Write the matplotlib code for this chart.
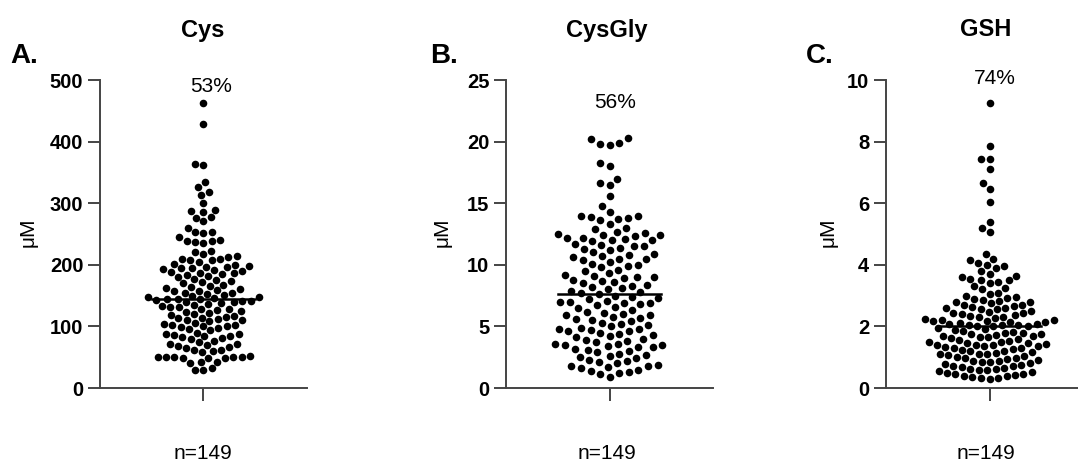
import numpy as np
import matplotlib
matplotlib.use("Agg")
import matplotlib.pyplot as plt

plt.rcParams['font.family'] = ['Liberation Sans', 'DejaVu Sans']

# valores (uM), n=149 en cada panel
cys = [463, 428, 364, 362, 334, 326, 318, 313, 300, 289, 288, 286, 277, 276, 271, 260,
       253, 253, 252, 245, 240, 239, 238, 237, 236,
       218, 221, 223,
       205, 207, 208, 209, 210, 212, 214,
       193, 194, 195, 196, 197, 198, 200, 202,
       180, 182, 184, 185, 186, 187, 188, 190, 192,
       166, 168, 170, 172, 173, 175, 177,
       151, 153, 154, 155, 157, 158, 159, 160, 162, 164,
       137, 138, 139, 140, 141, 142, 143, 144, 145, 145, 146, 147, 148, 149,
       122, 124, 125, 126, 128, 129, 131, 132, 133, 135,
       108, 110, 111, 112, 113, 114, 116, 117, 118, 120,
       94, 96, 98, 99, 100, 101, 102, 103, 104, 106,
       79, 81, 83, 84, 85, 86, 87, 88, 90,
       65, 67, 68, 70, 71, 72, 74, 76,
       58, 60, 61, 62,
       48, 49, 49, 50, 50, 50, 51, 51, 52,
       41, 42, 43,
       29, 30, 32]

cysgly = [20.3, 20.2, 19.9, 19.8, 19.7,
          18.3, 18.0,
          17.0, 16.6, 16.5,
          15.6,
          14.8, 14.3,
          14.0, 14.0, 13.9, 13.8, 13.7, 13.6, 13.3, 13.0,
          12.9, 12.7, 12.6, 12.5, 12.4, 12.4, 12.3, 12.2, 12.2, 12.1, 12.0, 12.0, 11.9,
          11.7, 11.6, 11.5, 11.5, 11.4, 11.3, 11.2, 11.0, 10.9, 10.8,
          10.7, 10.6, 10.5, 10.5, 10.4, 10.2, 10.1, 10.0, 9.9,
          9.8, 9.6, 9.5, 9.3, 9.2, 9.1, 9.0, 9.0, 8.9,
          8.8, 8.7, 8.6, 8.5, 8.4, 8.3, 8.2, 8.1, 8.0, 7.9,
          7.8, 7.7, 7.6, 7.5, 7.4, 7.3, 7.2, 7.1, 7.0, 7.0, 6.9, 6.9,
          6.8, 6.7, 6.6, 6.5, 6.3, 6.2, 6.1, 6.0, 5.9, 5.9, 5.8,
          5.7, 5.6, 5.5, 5.4, 5.3, 5.2, 5.1, 5.0, 4.9, 4.8, 4.8,
          4.7, 4.6, 4.6, 4.5, 4.4, 4.3, 4.2, 4.1, 4.0, 3.9, 3.8,
          3.7, 3.6, 3.6, 3.5, 3.5, 3.4, 3.3, 3.3, 3.2, 3.1, 3.0, 2.9,
          2.8, 2.7, 2.6, 2.5, 2.4, 2.3, 2.2, 2.1, 2.0,
          1.9, 1.8, 1.8, 1.7, 1.6, 1.5, 1.4, 1.3, 1.2, 1.1, 0.9]

gsh = [9.25, 7.85, 7.45, 7.45, 7.1, 6.65, 6.45, 6.05, 5.4, 5.2, 5.05,
       4.35, 4.2,
       4.15, 4.05, 4.0, 3.95,
       3.9, 3.8, 3.7,
       3.65, 3.6, 3.55, 3.5, 3.5, 3.45,
       3.4, 3.3, 3.25, 3.2,
       3.1, 3.05, 3.0, 2.95, 2.92, 2.9,
       2.85, 2.82, 2.8, 2.78, 2.75, 2.7, 2.68, 2.65,
       2.62, 2.6, 2.6, 2.58, 2.55, 2.5, 2.48, 2.45, 2.42, 2.4,
       2.36, 2.34, 2.32, 2.3, 2.28, 2.25, 2.22, 2.2, 2.18, 2.16, 2.14, 2.13,
       2.1, 2.08, 2.07, 2.06, 2.05, 2.04, 2.02, 2.0, 2.01, 1.94, 1.9, 1.87,
       1.84, 1.82, 1.8, 1.78, 1.75, 1.74, 1.72, 1.7, 1.69, 1.67, 1.64, 1.61,
       1.58, 1.56, 1.53, 1.5, 1.48, 1.46, 1.45, 1.42, 1.41, 1.4, 1.38, 1.36, 1.35,
       1.33, 1.31, 1.29, 1.26, 1.24, 1.21, 1.19, 1.16, 1.14, 1.12, 1.1, 1.09,
       1.06, 1.04, 1.01, 0.99, 0.96, 0.93, 0.91, 0.89, 0.87, 0.85, 0.83,
       0.8, 0.78, 0.76, 0.73, 0.7, 0.68, 0.65, 0.63, 0.61, 0.59, 0.57,
       0.55, 0.52, 0.5, 0.47, 0.45, 0.42, 0.4, 0.38, 0.36, 0.34, 0.32, 0.3]

titulos = ["Cys", "CysGly", "GSH"]
letras = ["A.", "B.", "C."]
porcentajes = ["53%", "56%", "74%"]
ymax = [500, 25, 10]
yticks = [[0, 100, 200, 300, 400, 500], [0, 5, 10, 15, 20, 25], [0, 2, 4, 6, 8, 10]]
n_label = "n=149"

W, H = 1078, 461
fig = plt.figure(figsize=(W / 100, H / 100), dpi=100)


def fx(x):
    return x / W


def fy(y):
    return 1 - y / H


# Posiciones en pixeles de cada panel (eje izq, textos)
ejes_x = [100, 506, 886]
ancho = 207
y_top, y_bot = 80, 388
pos_titulo = [203, 607, 986]
pos_letra = [10, 430, 806]
pos_pct = [(211, 86), (615, 102), (995, 78)]
pos_um = [28, 442, 828]
sep = [8.5, 10.0, 8.6]   # separacion minima entre puntos (px)


def swarm(ypx, d):
    # beeswarm simple: cada punto va lo mas cerca posible del centro
    orden = np.argsort(ypx, kind='stable')
    xs = np.zeros(len(ypx))
    puestos = []
    for i in orden:
        y = ypx[i]
        cerca = [(px, py) for px, py in puestos if abs(py - y) < d]
        cands = [0.0]
        for px, py in cerca:
            dx = np.sqrt(d * d - (py - y) ** 2)
            cands += [px - dx, px + dx]
        cands.sort(key=abs)
        for c in cands:
            if all((c - px) ** 2 + (y - py) ** 2 >= d * d - 1e-6 for px, py in cerca):
                xs[i] = c
                break
        puestos.append((xs[i], y))
    return xs


datos = [cys, cysgly, gsh]
for k in range(3):
    ax = fig.add_axes([fx(ejes_x[k]), fy(y_bot), ancho / W, (y_bot - y_top) / H])
    ax.set_xlim(-1, 1)
    ax.set_ylim(0, ymax[k])
    vals = np.array(datos[k], dtype=float)

    ypx = vals / ymax[k] * (y_bot - y_top)
    xoff = swarm(ypx, sep[k])
    xdat = xoff * 2.0 / ancho
    ax.scatter(xdat, vals, s=30, color='black', linewidths=0, clip_on=False, zorder=3)
    med = np.median(vals)
    ax.plot([-0.5, 0.5], [med, med], color='black', lw=1.8, zorder=4)

    for s in ['top', 'right']:
        ax.spines[s].set_visible(False)
    for s in ['left', 'bottom']:
        ax.spines[s].set_color('#444444')
        ax.spines[s].set_linewidth(1.4)
    ax.set_yticks(yticks[k])
    ax.set_yticklabels([str(t) for t in yticks[k]], fontsize=14.5, fontweight='bold')
    ax.set_xticks([0])
    ax.set_xticklabels([''])
    ax.tick_params(axis='both', length=9, width=1.4, color='#444444', pad=3)
    ax.patch.set_visible(False)

    fig.text(fx(pos_titulo[k]), fy(30), titulos[k], ha='center', va='center',
             fontsize=17, fontweight='bold')
    fig.text(fx(pos_letra[k]), fy(56), letras[k], ha='left', va='center',
             fontsize=20, fontweight='bold')
    fig.text(fx(pos_pct[k][0]), fy(pos_pct[k][1]), porcentajes[k], ha='center',
             va='center', fontsize=15)
    fig.text(fx(pos_um[k]), fy(232), "\u03bcM", ha='center', va='center',
             rotation=90, fontsize=15)
    fig.text(fx(pos_titulo[k]), fy(453), n_label, ha='center', va='center', fontsize=15)

fig.savefig("out.png", dpi=100)
